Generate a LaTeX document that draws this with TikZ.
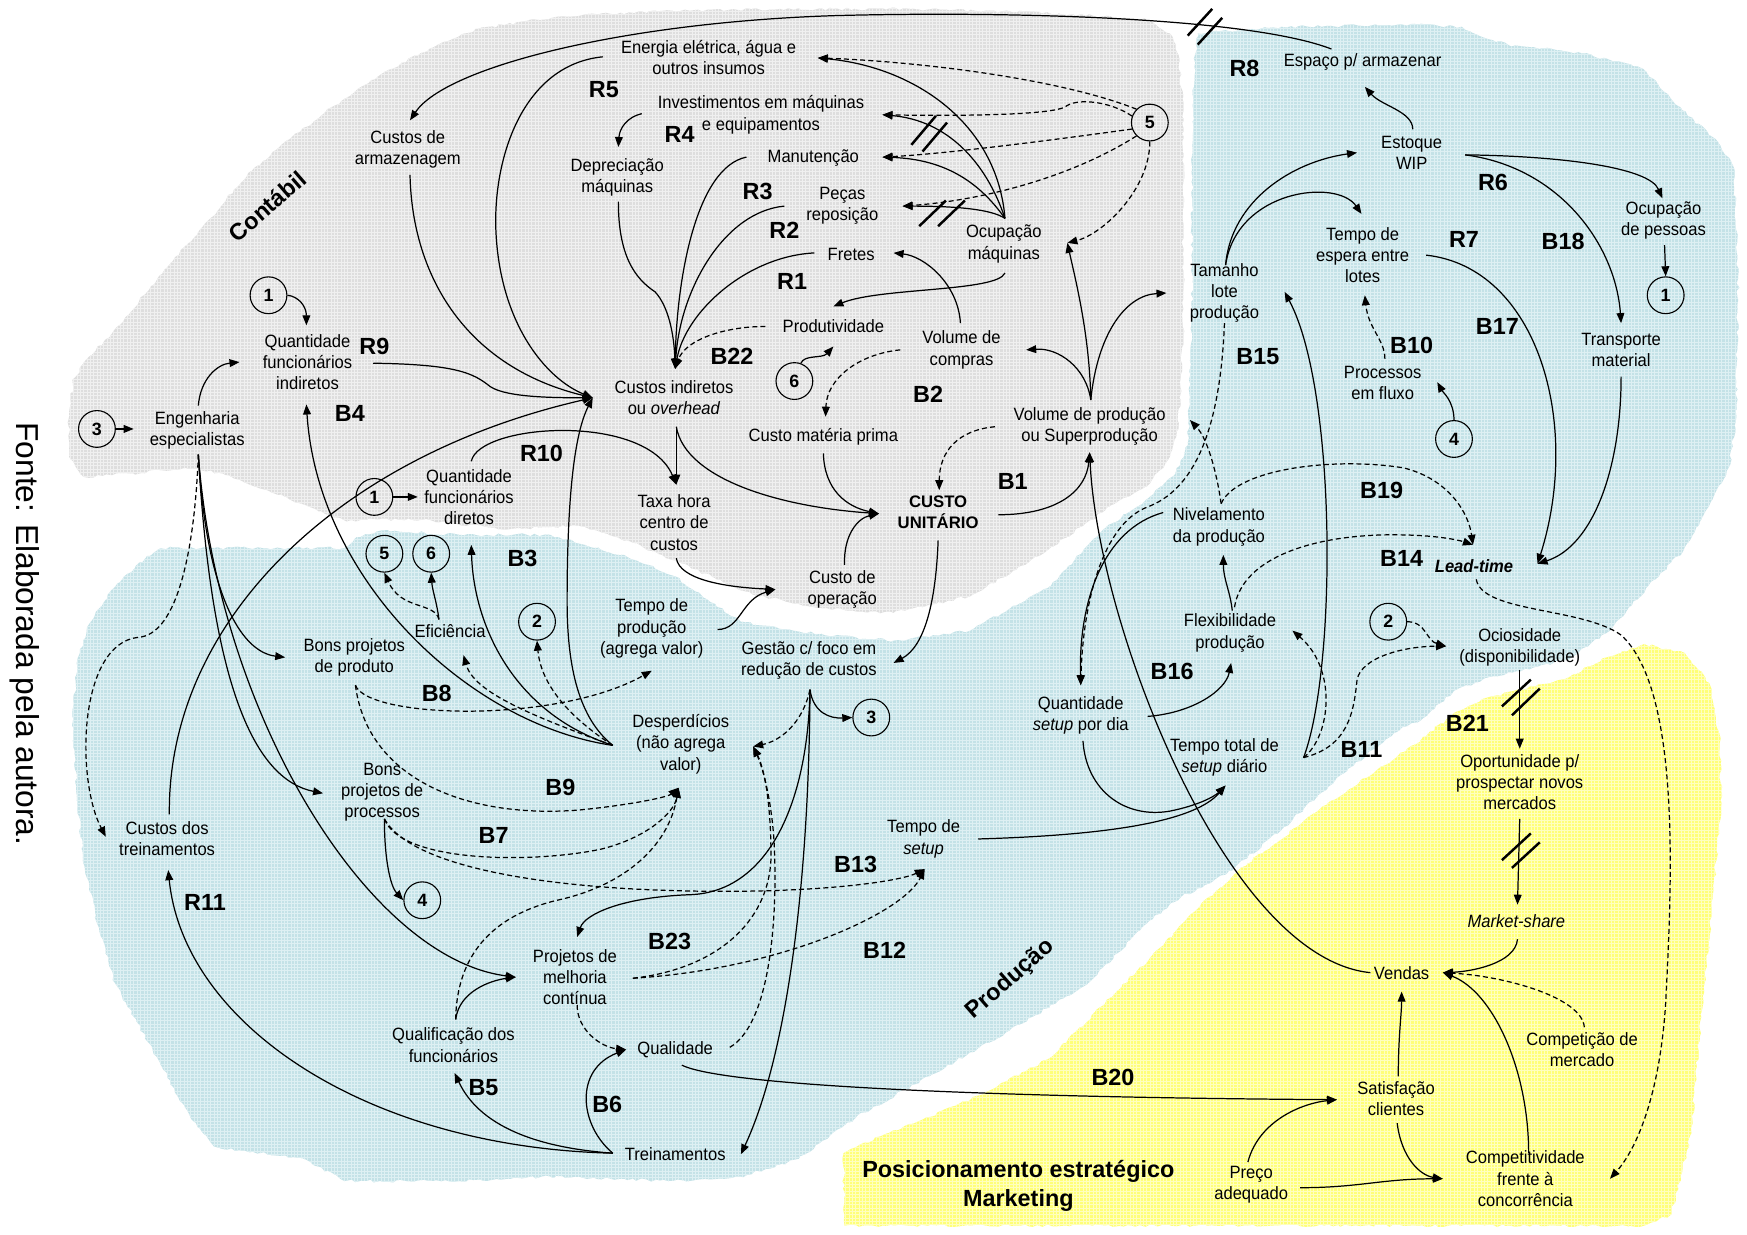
\documentclass[tikz,border=0pt]{standalone}
\usepackage{fontspec}
\setmainfont{Liberation Sans}[FakeStretch=0.93]
\newfontfamily\plainsf{Liberation Sans}
\usetikzlibrary{arrows.meta,decorations.pathmorphing,patterns}

\definecolor{grayzone}{RGB}{222,222,222}
\definecolor{grayline}{RGB}{240,240,240}
\definecolor{bluezone}{RGB}{196,226,231}
\definecolor{blueline}{RGB}{222,240,243}
\definecolor{yellowzone}{RGB}{255,255,120}
\definecolor{yellowline}{RGB}{255,255,190}

\begin{document}
\begin{tikzpicture}[x=1pt,y=-1pt,
  txt/.style={font=\fontsize{16}{19}\selectfont, align=center, inner sep=1pt},
  looplbl/.style={font=\plainsf\bfseries\fontsize{21}{24}\selectfont, inner sep=0pt},
  zonelbl/.style={font=\plainsf\bfseries\fontsize{21}{26}\selectfont, align=center, inner sep=0pt},
  circ/.style={circle, draw, line width=1pt, minimum size=33pt, inner sep=0pt, font=\plainsf\bfseries\fontsize{16}{16}\selectfont},
  link/.style={line width=1.1pt, -{Triangle[length=9pt,width=7pt]}},
  dlink/.style={link, dash pattern=on 4.5pt off 2.8pt},
  delay/.style={line width=2.2pt},
  zone/.style={decorate, decoration={random steps, segment length=4pt, amplitude=1.3pt}},
]
\useasboundingbox (0,0) rectangle (1568,1108);
\fill[white] (0,0) rectangle (1568,1108);

% ---------- background zones ----------
\def\grayzonepath{(500,15) -- (590,10) -- (700,8) -- (820,8) -- (950,12) -- (1030,18) -- (1050,30) -- (1058,50) -- (1062,100) -- (1062,300) -- (1058,380) -- (1050,410) -- (1032,434) -- (992,458) -- (940,494) -- (871,535) -- (802,550) -- (740,546) -- (680,535) -- (640,518) -- (605,503) -- (563,485) -- (520,472) -- (450,475) -- (387,467) -- (340,466) -- (311,468) -- (286,459) -- (240,440) -- (200,425) -- (166,420) -- (120,425) -- (75,428) -- (62,410) -- (62,370) -- (66,340) -- (80,320) -- (100,300) -- (125,270) -- (150,240) -- (190,195) -- (223,155) -- (260,125) -- (300,95) -- (343,66) -- (390,42) -- (429,26) -- cycle}
\pgfmathsetseed{11}
\fill[grayzone, zone] (500,15) -- (590,10) -- (700,8) -- (820,8) -- (950,12) -- (1030,18) -- (1050,30) -- (1058,50) -- (1062,100) -- (1062,300) -- (1058,380) -- (1050,410) -- (1032,434) -- (992,458) -- (940,494) -- (871,535) -- (802,550) -- (740,546) -- (680,535) -- (640,518) -- (605,503) -- (563,485) -- (520,472) -- (450,475) -- (387,467) -- (340,466) -- (311,468) -- (286,459) -- (240,440) -- (200,425) -- (166,420) -- (120,425) -- (75,428) -- (62,410) -- (62,370) -- (66,340) -- (80,320) -- (100,300) -- (125,270) -- (150,240) -- (190,195) -- (223,155) -- (260,125) -- (300,95) -- (343,66) -- (390,42) -- (429,26) -- cycle;
\pgfmathsetseed{11}
\fill[pattern=grid, pattern color=grayline, zone] (500,15) -- (590,10) -- (700,8) -- (820,8) -- (950,12) -- (1030,18) -- (1050,30) -- (1058,50) -- (1062,100) -- (1062,300) -- (1058,380) -- (1050,410) -- (1032,434) -- (992,458) -- (940,494) -- (871,535) -- (802,550) -- (740,546) -- (680,535) -- (640,518) -- (605,503) -- (563,485) -- (520,472) -- (450,475) -- (387,467) -- (340,466) -- (311,468) -- (286,459) -- (240,440) -- (200,425) -- (166,420) -- (120,425) -- (75,428) -- (62,410) -- (62,370) -- (66,340) -- (80,320) -- (100,300) -- (125,270) -- (150,240) -- (190,195) -- (223,155) -- (260,125) -- (300,95) -- (343,66) -- (390,42) -- (429,26) -- cycle;

\pgfmathsetseed{23}
\fill[bluezone, zone] (1075,30) -- (1150,24) -- (1272,22) -- (1312,24) -- (1335,35) -- (1353,40) -- (1420,48) -- (1475,62) -- (1510,99) -- (1540,125) -- (1556,150) -- (1560,250) -- (1558,377) -- (1552,419) -- (1530,460) -- (1511,494) -- (1480,525) -- (1459,550) -- (1442,568) -- (1408,592) -- (1339,607) -- (1305,620) -- (1278,644) -- (1251,658) -- (1237,670) -- (1210,690) -- (1185,712) -- (1150,745) -- (1100,785) -- (1060,805) -- (1032,826) -- (975,884) -- (906,925) -- (837,964) -- (768,1003) -- (717,1040) -- (665,1056) -- (600,1060) -- (494,1056) -- (412,1060) -- (309,1060) -- (275,1041) -- (192,1029) -- (172,1005) -- (137,942) -- (103,882) -- (86,822) -- (76,778) -- (69,718) -- (65,640) -- (70,590) -- (80,560) -- (103,527) -- (125,505) -- (144,492) -- (309,492) -- (320,482) -- (343,476) -- (412,480) -- (494,480) -- (563,500) -- (605,517) -- (665,558) -- (740,570) -- (802,575) -- (871,566) -- (940,528) -- (992,474) -- (1032,446) -- (1055,425) -- (1066,400) -- (1070,300) -- (1070,150) -- (1072,60) -- cycle;
\pgfmathsetseed{23}
\fill[pattern=grid, pattern color=blueline, zone] (1075,30) -- (1150,24) -- (1272,22) -- (1312,24) -- (1335,35) -- (1353,40) -- (1420,48) -- (1475,62) -- (1510,99) -- (1540,125) -- (1556,150) -- (1560,250) -- (1558,377) -- (1552,419) -- (1530,460) -- (1511,494) -- (1480,525) -- (1459,550) -- (1442,568) -- (1408,592) -- (1339,607) -- (1305,620) -- (1278,644) -- (1251,658) -- (1237,670) -- (1210,690) -- (1185,712) -- (1150,745) -- (1100,785) -- (1060,805) -- (1032,826) -- (975,884) -- (906,925) -- (837,964) -- (768,1003) -- (717,1040) -- (665,1056) -- (600,1060) -- (494,1056) -- (412,1060) -- (309,1060) -- (275,1041) -- (192,1029) -- (172,1005) -- (137,942) -- (103,882) -- (86,822) -- (76,778) -- (69,718) -- (65,640) -- (70,590) -- (80,560) -- (103,527) -- (125,505) -- (144,492) -- (309,492) -- (320,482) -- (343,476) -- (412,480) -- (494,480) -- (563,500) -- (605,517) -- (665,558) -- (740,570) -- (802,575) -- (871,566) -- (940,528) -- (992,474) -- (1032,446) -- (1055,425) -- (1066,400) -- (1070,300) -- (1070,150) -- (1072,60) -- cycle;

\pgfmathsetseed{37}
\fill[yellowzone, zone] (758,1100) -- (757,1035) -- (790,1020) -- (871,987) -- (940,951) -- (989,903) -- (1032,860) -- (1085,805) -- (1120,775) -- (1191,722) -- (1237,690) -- (1271,668) -- (1305,640) -- (1339,625) -- (1408,608) -- (1442,590) -- (1476,578) -- (1512,586) -- (1534,613) -- (1543,658) -- (1545,720) -- (1537,807) -- (1523,957) -- (1518,1017) -- (1500,1090) -- (1476,1100) -- cycle;
\pgfmathsetseed{37}
\fill[pattern=grid, pattern color=yellowline, zone] (758,1100) -- (757,1035) -- (790,1020) -- (871,987) -- (940,951) -- (989,903) -- (1032,860) -- (1085,805) -- (1120,775) -- (1191,722) -- (1237,690) -- (1271,668) -- (1305,640) -- (1339,625) -- (1408,608) -- (1442,590) -- (1476,578) -- (1512,586) -- (1534,613) -- (1543,658) -- (1545,720) -- (1537,807) -- (1523,957) -- (1518,1017) -- (1500,1090) -- (1476,1100) -- cycle;

% ---------- zone titles and source ----------
\node[zonelbl, rotate=41] (tContabil) at (240,185) {Contábil};
\node[zonelbl, rotate=41] (tProducao) at (907,879) {Produção};
\node[zonelbl] (tMarketing) at (914,1064) {Posicionamento estratégico\\Marketing};
\node[font=\plainsf\fontsize{28.5}{30}\selectfont, rotate=-90, inner sep=0pt] (fonte) at (22,569) {Fonte: Elaborada pela autora.};

% ---------- variables ----------
\node[txt] (energia) at (636,52) {Energia elétrica, água e\\outros insumos};
\node[txt] (armaz) at (366,134) {Custos de\\armazenagem};
\node[txt] (invest) at (683,103) {Investimentos em máquinas\\e equipamentos};
\node[txt] (deprec) at (554,159) {Depreciação\\máquinas};
\node[txt] (manut) at (730,142) {Manutenção};
\node[txt] (pecas) at (756,185) {Peças\\reposição};
\node[txt] (ocupmaq) at (901,219) {Ocupação\\máquinas};
\node[txt] (fretes) at (764,228) {Fretes};
\node[txt] (produt) at (748,293) {Produtividade};
\node[txt] (vcompras) at (863,314) {Volume de\\compras};
\node[txt] (ovh) at (605,357) {Custos indiretos\\ou \textit{overhead}};
\node[txt] (qfi) at (276,325) {Quantidade\\funcionários\\indiretos};
\node[txt] (eng) at (177,386) {Engenharia\\especialistas};
\node[txt] (cmp) at (739,392) {Custo matéria prima};
\node[txt] (vprod) at (978,383) {Volume de produção\\ou Superprodução};
\node[txt] (qfd) at (421,446) {Quantidade\\funcionários\\diretos};
\node[txt] (taxa) at (605,469) {Taxa hora\\centro de\\custos};
\node[txt, font=\plainsf\bfseries\fontsize{15}{19}\selectfont] (cu) at (842,460) {CUSTO\\UNITÁRIO};
\node[txt] (cop) at (756,529) {Custo de\\operação};
\node[txt] (efic) at (404,566) {Eficiência};
\node[txt] (tprod) at (585,564) {Tempo de\\produção\\(agrega valor)};
\node[txt] (bpprod) at (318,590) {Bons projetos\\de produto};
\node[txt] (gestao) at (726,593) {Gestão c/ foco em\\redução de custos};
\node[txt] (desp) at (611,668) {Desperdícios\\(não agrega\\valor)};
\node[txt] (bpproc) at (343,711) {Bons\\projetos de\\processos};
\node[txt] (ctrein) at (150,753) {Custos dos\\treinamentos};
\node[txt] (tsetup) at (829,753) {Tempo de\\\textit{setup}};
\node[txt] (projm) at (516,877) {Projetos de\\melhoria\\contínua};
\node[txt] (qualif) at (407,938) {Qualificação dos\\funcionários};
\node[txt] (qualid) at (606,942) {Qualidade};
\node[txt] (trein) at (606,1036) {Treinamentos};
\node[txt] (espaco) at (1223,56) {Espaço p/ armazenar};
\node[txt] (estoque) at (1267,137) {Estoque\\WIP};
\node[txt] (ocpes) at (1493,198) {Ocupação\\de pessoas};
\node[txt] (tespera) at (1223,229) {Tempo de\\espera entre\\lotes};
\node[txt] (tlote) at (1099,263) {Tamanho\\lote\\produção};
\node[txt] (transp) at (1455,314) {Transporte\\material};
\node[txt] (pfluxo) at (1241,344) {Processos\\em fluxo};
\node[txt] (nivel) at (1094,473) {Nivelamento\\da produção};
\node[txt, font=\fontsize{16}{19}\selectfont\bfseries\itshape] (lead) at (1323,508) {Lead-time};
\node[txt] (flex) at (1104,568) {Flexibilidade\\produção};
\node[txt] (ocios) at (1364,581) {Ociosidade\\(disponibilidade)};
\node[txt] (qsetup) at (970,642) {Quantidade\\\textit{setup} por dia};
\node[txt] (ttotal) at (1099,680) {Tempo total de\\\textit{setup} diário};
\node[txt] (oport) at (1364,702) {Oportunidade p/\\prospectar novos\\mercados};
\node[txt] (mshare) at (1361,827) {\textit{Market-share}};
\node[txt] (vendas) at (1258,873) {Vendas};
\node[txt] (compet) at (1420,942) {Competição de\\mercado};
\node[txt] (satisf) at (1253,986) {Satisfação\\clientes};
\node[txt] (preco) at (1123,1063) {Preço\\adequado};
\node[txt] (compt) at (1369,1058) {Competitividade\\frente à\\concorrência};

% ---------- off-page connectors ----------
\node[circ] (c5a) at (1032,110) {5};
\node[circ] (c1a) at (241,265) {1};
\node[circ] (c6a) at (713,342) {6};
\node[circ] (c3a) at (87,385) {3};
\node[circ] (c1b) at (336,446) {1};
\node[circ] (c5b) at (345,497) {5};
\node[circ] (c6b) at (387,497) {6};
\node[circ] (c2a) at (482,558) {2};
\node[circ] (c3b) at (782,644) {3};
\node[circ] (c4a) at (379,808) {4};
\node[circ] (c1c) at (1495,265) {1};
\node[circ] (c4b) at (1305,394) {4};
\node[circ] (c2b) at (1246,558) {2};

% ---------- loop labels ----------
\foreach \nm/\px/\py in {R5/542/80, R4/610/121, R3/680/172, R2/704/207, R1/711/253, B22/657/320, B2/833/354, R9/336/311, B4/314/371, R10/486/407, B1/909/432, B3/469/501, B8/392/622, B9/503/707, B7/443/750, R11/184/810, B13/768/776, B23/601/845, B12/794/853, B5/434/976, B6/545/991, R8/1117/61, R6/1340/164, R7/1314/215, B18/1403/217, B17/1344/293, B10/1267/310, B15/1129/320, B19/1240/440, B14/1258/501, B16/1052/603, B21/1317/649, B11/1222/673, B20/999/967}
  \node[looplbl] (l\nm) at (\px,\py) {\nm};

% ---------- attachment points on the variables ----------
\coordinate (ovhIn) at ([shift={(-73,0)}]ovh.center);
\coordinate (ovhTop) at ([shift={(1,-26)}]ovh.center);
\coordinate (ovhB) at ([shift={(2,26)}]ovh.center);
\coordinate (energiaR) at ([shift={(98,0)}]energia.center);
\coordinate (energiaL) at ([shift={(-95,-1)}]energia.center);
\coordinate (investR) at ([shift={(109,0)}]invest.center);
\coordinate (investL) at ([shift={(-107,-1)}]invest.center);
\coordinate (manutR) at ([shift={(62,-1)}]manut.center);
\coordinate (manutL) at ([shift={(-60,-1)}]manut.center);
\coordinate (pecasR) at ([shift={(54,0)}]pecas.center);
\coordinate (pecasL) at ([shift={(-52,0)}]pecas.center);
\coordinate (fretesL) at ([shift={(-33,-1)}]fretes.center);
\coordinate (fretesR) at ([shift={(38,-1)}]fretes.center);
\coordinate (ocupT) at ([shift={(1,-23)}]ocupmaq.center);
\coordinate (ocupB) at ([shift={(1,26)}]ocupmaq.center);
\coordinate (ocupR) at ([shift={(57,-1)}]ocupmaq.center);
\coordinate (produtL) at ([shift={(-61,0)}]produt.center);
\coordinate (produtT) at ([shift={(0,-18)}]produt.center);
\coordinate (produtB) at ([shift={(0,18)}]produt.center);
\coordinate (vcompT) at ([shift={(-1,-24)}]vcompras.center);
\coordinate (vcompL) at ([shift={(-55,0)}]vcompras.center);
\coordinate (vcompR) at ([shift={(58,0)}]vcompras.center);
\coordinate (cmpT) at ([shift={(2,-18)}]cmp.center);
\coordinate (cmpB) at ([shift={(0,15)}]cmp.center);
\coordinate (vprodT) at ([shift={(1,-24)}]vprod.center);
\coordinate (vprodB) at ([shift={(0,23)}]vprod.center);
\coordinate (vprodL) at ([shift={(-85,0)}]vprod.center);
\coordinate (vprodR) at ([shift={(90,-6)}]vprod.center);
\coordinate (cuT) at ([shift={(1,-20)}]cu.center);
\coordinate (cuL) at ([shift={(-53,1)}]cu.center);
\coordinate (cuR) at ([shift={(54,2)}]cu.center);
\coordinate (cuB) at ([shift={(0,25)}]cu.center);
\coordinate (taxaT) at ([shift={(2,-34)}]taxa.center);
\coordinate (taxaB) at ([shift={(2,32)}]taxa.center);
\coordinate (copT) at ([shift={(2,-22)}]cop.center);
\coordinate (copL) at ([shift={(-60,0)}]cop.center);
\coordinate (tprodR) at ([shift={(59,1)}]tprod.center);
\coordinate (tprodB) at ([shift={(0,38)}]tprod.center);
\coordinate (qfdT) at ([shift={(2,-32)}]qfd.center);
\coordinate (qfdL) at ([shift={(-46,0)}]qfd.center);
\coordinate (qfdB) at ([shift={(2,43)}]qfd.center);
\coordinate (qfiR) at ([shift={(59,1)}]qfi.center);
\coordinate (qfiL) at ([shift={(-61,0)}]qfi.center);
\coordinate (qfiT) at ([shift={(-1,-33)}]qfi.center);
\coordinate (qfiB) at ([shift={(-1,38)}]qfi.center);
\coordinate (engT) at ([shift={(1,-22)}]eng.center);
\coordinate (engB) at ([shift={(1,22)}]eng.center);
\coordinate (engL) at ([shift={(-57,-1)}]eng.center);
\coordinate (armazT) at ([shift={(2,-26)}]armaz.center);
\coordinate (armazB) at ([shift={(2,23)}]armaz.center);
\coordinate (deprecT) at ([shift={(1,-27)}]deprec.center);
\coordinate (deprecB) at ([shift={(1,22)}]deprec.center);
\coordinate (espacoNW) at ([shift={(-28,-12)}]espaco.center);
\coordinate (espacoB) at ([shift={(2,22)}]espaco.center);
\coordinate (ctreinT) at ([shift={(2,-22)}]ctrein.center);
\coordinate (ctreinB) at ([shift={(1,28)}]ctrein.center);
\coordinate (ctreinL) at ([shift={(-55,-2)}]ctrein.center);
\coordinate (despSrc) at ([shift={(-61,1)}]desp.center);
\coordinate (despR) at ([shift={(65,2)}]desp.center);
\coordinate (despB) at ([shift={(-2,39)}]desp.center);
\coordinate (eficT) at ([shift={(-10,-10)}]efic.center);
\coordinate (eficB) at ([shift={(12,22)}]efic.center);
\coordinate (bpprodB) at ([shift={(1,25)}]bpprod.center);
\coordinate (bpprodL) at ([shift={(-62,0)}]bpprod.center);
\coordinate (gestaoB) at ([shift={(1,26)}]gestao.center);
\coordinate (gestaoR) at ([shift={(76,2)}]gestao.center);
\coordinate (bpprocL) at ([shift={(-53,1)}]bpproc.center);
\coordinate (bpprocB) at ([shift={(2,24)}]bpproc.center);
\coordinate (tsetupB) at ([shift={(1,27)}]tsetup.center);
\coordinate (tsetupR) at ([shift={(49,0)}]tsetup.center);
\coordinate (projT) at ([shift={(2,-36)}]projm.center);
\coordinate (projL) at ([shift={(-53,0)}]projm.center);
\coordinate (projR) at ([shift={(52,1)}]projm.center);
\coordinate (projB) at ([shift={(2,25)}]projm.center);
\coordinate (qualifT) at ([shift={(2,-23)}]qualif.center);
\coordinate (qualifB) at ([shift={(1,25)}]qualif.center);
\coordinate (qualidL) at ([shift={(-44,0)}]qualid.center);
\coordinate (qualidR) at ([shift={(49,-2)}]qualid.center);
\coordinate (qualidB) at ([shift={(6,14)}]qualid.center);
\coordinate (treinL) at ([shift={(-56,-1)}]trein.center);
\coordinate (treinR) at ([shift={(59,0)}]trein.center);
\coordinate (tloteT) at ([shift={(1,-25)}]tlote.center);
\coordinate (tloteB) at ([shift={(0,27)}]tlote.center);
\coordinate (tloteR) at ([shift={(54,-1)}]tlote.center);
\coordinate (tloteL) at ([shift={(-52,0)}]tlote.center);
\coordinate (estoqueT) at ([shift={(1,-21)}]estoque.center);
\coordinate (estoqueR) at ([shift={(48,2)}]estoque.center);
\coordinate (estoqueL) at ([shift={(-49,0)}]estoque.center);
\coordinate (ocpesT) at ([shift={(-1,-20)}]ocpes.center);
\coordinate (ocpesB) at ([shift={(1,22)}]ocpes.center);
\coordinate (tesperaT) at ([shift={(-1,-37)}]tespera.center);
\coordinate (tesperaR) at ([shift={(57,0)}]tespera.center);
\coordinate (tesperaB) at ([shift={(2,36)}]tespera.center);
\coordinate (transpT) at ([shift={(0,-24)}]transp.center);
\coordinate (transpB) at ([shift={(0,24)}]transp.center);
\coordinate (pfluxoT) at ([shift={(2,-22)}]pfluxo.center);
\coordinate (pfluxoR) at ([shift={(49,-1)}]pfluxo.center);
\coordinate (nivelT) at ([shift={(2,-21)}]nivel.center);
\coordinate (nivelL) at ([shift={(-50,-13)}]nivel.center);
\coordinate (nivelB) at ([shift={(4,25)}]nivel.center);
\coordinate (leadL) at ([shift={(-1,-19)}]lead.center);
\coordinate (leadR) at ([shift={(57,-2)}]lead.center);
\coordinate (leadB) at ([shift={(2,12)}]lead.center);
\coordinate (flexT) at ([shift={(2,-20)}]flex.center);
\coordinate (flexT2) at ([shift={(4,-23)}]flex.center);
\coordinate (flexR) at ([shift={(56,-2)}]flex.center);
\coordinate (flexB) at ([shift={(1,27)}]flex.center);
\coordinate (ociosL) at ([shift={(-66,-1)}]ocios.center);
\coordinate (ociosB) at ([shift={(0,20)}]ocios.center);
\coordinate (qsetupT) at ([shift={(0,-27)}]qsetup.center);
\coordinate (qsetupR) at ([shift={(60,1)}]qsetup.center);
\coordinate (qsetupB) at ([shift={(2,23)}]qsetup.center);
\coordinate (ttotalB) at ([shift={(1,25)}]ttotal.center);
\coordinate (ttotalR) at ([shift={(71,0)}]ttotal.center);
\coordinate (oportT) at ([shift={(0,-30)}]oport.center);
\coordinate (oportB) at ([shift={(0,33)}]oport.center);
\coordinate (mshareT) at ([shift={(1,-15)}]mshare.center);
\coordinate (mshareB) at ([shift={(1,16)}]mshare.center);
\coordinate (vendasR) at ([shift={(37,0)}]vendas.center);
\coordinate (vendasL) at ([shift={(-28,0)}]vendas.center);
\coordinate (vendasB) at ([shift={(0,17)}]vendas.center);
\coordinate (competT) at ([shift={(2,-20)}]compet.center);
\coordinate (satisfT) at ([shift={(2,-20)}]satisf.center);
\coordinate (satisfB) at ([shift={(1,22)}]satisf.center);
\coordinate (satisfL) at ([shift={(-53,1)}]satisf.center);
\coordinate (precoR) at ([shift={(44,3)}]preco.center);
\coordinate (precoT) at ([shift={(-3,-20)}]preco.center);
\coordinate (compL) at ([shift={(-74,0)}]compt.center);
\coordinate (compT) at ([shift={(3,-23)}]compt.center);
\coordinate (compR) at ([shift={(76,0)}]compt.center);

% ---------- links: accounting ----------
\draw[link] (espacoNW) .. controls (1120,15) and (900,10) .. (750,14) .. controls (560,20) and (400,60) .. (armazT);
\draw[delay] (1066,32) -- (1088,8);
\draw[delay] (1075,40) -- (1097,16);
\draw[link] (energiaL) .. controls (470,58) and (443,140) .. (445,205) .. controls (448,290) and (490,340) .. (ovhIn);
\draw[link] (armazB) .. controls (370,250) and (420,330) .. (ovhIn);
\draw[link] (qfiR) .. controls (410,327) and (425,335) .. (440,347) .. controls (455,357) and (500,357) .. (ovhIn);
\draw[link] (ctreinT) .. controls (150,560) and (300,410) .. (ovhIn);
\draw[link] (despSrc) .. controls (520,645) and (509,600) .. (509,540) .. controls (509,450) and (515,390) .. (ovhIn);
\draw[link] (investL) .. controls (563,105) and (556,115) .. (deprecT);
\draw[link] (deprecB) .. controls (555,230) and (570,250) .. (588,262) .. controls (600,275) and (605,300) .. (ovhTop);
\draw[link] (manutL) .. controls (625,150) and (607,250) .. (ovhTop);
\draw[link] (pecasL) .. controls (650,190) and (610,260) .. (ovhTop);
\draw[link] (fretesL) .. controls (670,230) and (615,280) .. (ovhTop);
\draw[dlink] (produtL) .. controls (650,293) and (615,305) .. (ovhTop);
\draw[link] (ocupT) .. controls (895,110) and (820,60) .. (energiaR);
\draw[link] (ocupT) .. controls (885,145) and (850,108) .. (investR);
\draw[delay] (818,130) -- (840,104);
\draw[delay] (828,136) -- (850,110);
\draw[link] (ocupT) .. controls (880,165) and (850,143) .. (manutR);
\draw[link] (ocupT) .. controls (890,188) and (860,185) .. (pecasR);
\draw[delay] (825,203) -- (849,180);
\draw[delay] (842,203) -- (866,180);
\draw[dlink] (c5a.north west) .. controls (950,70) and (820,55) .. (energiaR);
\draw[dlink] (c5a.160) .. controls (995,90) and (965,88) .. (956,96) .. controls (940,104) and (850,104) .. (investR);
\draw[dlink] (c5a.200) .. controls (950,125) and (850,138) .. (manutR);
\draw[dlink] (c5a.south west) .. controls (960,160) and (880,180) .. (pecasR);
\draw[dlink] (c5a.south) .. controls (1032,170) and (990,210) .. (ocupR);
\draw[link] (ocupB) .. controls (895,262) and (790,258) .. (produtT);
\draw[link] (vcompT) .. controls (860,255) and (830,230) .. (fretesR);
\draw[link] (c6a.70) .. controls (722,318) and (738,322) .. (produtB);
\draw[dlink] (vcompL) .. controls (770,318) and (742,340) .. (cmpT);
\draw[link] (vprodT) .. controls (975,330) and (950,312) .. (vcompR);
\draw[link] (vprodT) .. controls (978,300) and (965,250) .. (ocupR);
\draw[link] (vprodT) .. controls (985,300) and (1010,265) .. (tloteL);
\draw[dlink] (vprodL) .. controls (860,386) and (843,405) .. (cuT);
\draw[link] (cuR) .. controls (950,462) and (975,440) .. (vprodB);
\draw[link] (vendasL) .. controls (1100,860) and (985,560) .. (vprodB);
\draw[link] (ovhB) -- (taxaT);
\draw[link] (ovhB) .. controls (615,430) and (700,455) .. (cuL);
\draw[link] (qfdT) .. controls (430,380) and (580,370) .. (taxaT);
\draw[link] (c1b.east) -- (qfdL);
\draw[link] (cmpB) .. controls (740,440) and (760,455) .. (cuL);
\draw[link] (copT) .. controls (757,480) and (770,465) .. (cuL);
\draw[link] (taxaB) .. controls (610,520) and (650,527) .. (copL);
\draw[link] (tprodR) .. controls (665,565) and (665,538) .. (copL);
\draw[link] (cuB) .. controls (840,540) and (830,580) .. (gestaoR);

% ---------- links: production ----------
\draw[link] (gestaoB) .. controls (730,640) and (745,645) .. (c3b.west);
\draw[dlink] (gestaoB) .. controls (720,650) and (700,665) .. (despR);
\draw[link] (gestaoB) .. controls (725,720) and (690,800) .. (620,803) .. controls (560,805) and (525,820) .. (projT);
\draw[link] (gestaoB) .. controls (726,800) and (705,950) .. (treinR);
\draw[dlink] (qualidR) .. controls (690,920) and (698,830) .. (695,760) .. controls (693,720) and (685,690) .. (despR);
\draw[dlink] (projR) .. controls (640,870) and (690,830) .. (692,770) .. controls (692,720) and (686,690) .. (despR);
\draw[dlink] (projR) .. controls (700,870) and (810,820) .. (tsetupB);
\draw[dlink] (projB) .. controls (518,925) and (540,940) .. (qualidL);
\draw[link] (treinL) .. controls (520,1010) and (515,960) .. (qualidL);
\draw[link] (treinL) .. controls (480,1030) and (430,1010) .. (qualifB);
\draw[link] (treinL) .. controls (330,1030) and (165,920) .. (ctreinB);
\draw[link] (qualifT) .. controls (412,890) and (440,880) .. (projL);
\draw[dlink] (qualifT) .. controls (410,850) and (450,820) .. (500,808) .. controls (560,795) and (600,760) .. (despB);
\draw[link] (engB) .. controls (195,640) and (330,860) .. (projL);
\draw[link] (engB) .. controls (185,530) and (215,585) .. (bpprodL);
\draw[link] (engB) .. controls (190,620) and (230,700) .. (bpprocL);
\draw[dlink] (engB) .. controls (175,490) and (160,570) .. (124,572) .. controls (70,578) and (68,700) .. (ctreinL);
\draw[link] (engT) .. controls (180,340) and (195,327) .. (qfiL);
\draw[link] (c3a.east) -- (engL);
\draw[link] (c1a.east) .. controls (268,266) and (275,275) .. (qfiT);
\draw[link] (despSrc) .. controls (420,650) and (285,520) .. (qfiB);
\draw[link] (despSrc) .. controls (460,640) and (425,560) .. (qfdB);
\draw[dlink] (despSrc) .. controls (505,640) and (485,610) .. (c2a.south);
\draw[dlink] (despSrc) .. controls (470,640) and (425,620) .. (eficB);
\draw[dlink] (eficT) .. controls (390,540) and (360,548) .. (c5b.south);
\draw[link] (eficT) .. controls (392,540) and (388,530) .. (c6b.south);
\draw[dlink] (bpprodB) .. controls (330,645) and (500,650) .. (tprodB);
\draw[dlink] (bpprodB) .. controls (330,700) and (420,735) .. (520,727) .. controls (570,722) and (600,715) .. (despB);
\draw[dlink] (bpprocB) .. controls (360,775) and (480,775) .. (540,762) .. controls (580,752) and (605,730) .. (despB);
\draw[dlink] (bpprocB) .. controls (370,780) and (500,800) .. (650,800) .. controls (750,800) and (810,790) .. (tsetupB);
\draw[link] (bpprocB) .. controls (345,770) and (350,795) .. (c4a.west);
\draw[link] (tsetupR) .. controls (980,750) and (1070,740) .. (ttotalB);
\draw[link] (qsetupB) .. controls (975,710) and (1010,735) .. (1050,728) .. controls (1075,723) and (1090,715) .. (ttotalB);
\draw[link] (qsetupR) .. controls (1070,640) and (1100,620) .. (flexB);
\draw[link] (nivelL) .. controls (990,475) and (968,540) .. (qsetupT);
\draw[dlink] (tloteB) .. controls (1095,390) and (1070,440) .. (1030,455) .. controls (990,470) and (972,540) .. (qsetupT);
\draw[dlink] (nivelT) .. controls (1093,430) and (1085,395) .. (vprodR);
\draw[dlink] (nivelT) .. controls (1110,420) and (1200,410) .. (1260,420) .. controls (1300,430) and (1318,460) .. (leadL);
\draw[link] (flexT) .. controls (1104,530) and (1098,520) .. (nivelB);
\draw[dlink] (flexT2) .. controls (1115,500) and (1180,480) .. (1250,480) .. controls (1290,480) and (1310,485) .. (leadL);
\draw[link] (ttotalR) .. controls (1200,600) and (1200,350) .. (tloteR);
\draw[dlink] (ttotalR) .. controls (1195,660) and (1200,600) .. (flexR);
\draw[dlink] (ttotalR) .. controls (1210,670) and (1215,640) .. (1218,610) .. controls (1222,590) and (1260,580) .. (ociosL);
\draw[dlink] (c2b.east) .. controls (1280,558) and (1280,575) .. (ociosL);
\draw[link] (c4b.north) .. controls (1305,360) and (1295,352) .. (pfluxoR);
\draw[dlink] (pfluxoT) .. controls (1243,305) and (1228,295) .. (tesperaB);
\draw[link] (tloteT) .. controls (1105,180) and (1160,145) .. (estoqueL);
\draw[link] (tloteT) .. controls (1110,170) and (1200,160) .. (tesperaT);
\draw[link] (estoqueT) .. controls (1268,100) and (1240,95) .. (espacoB);
\draw[link] (estoqueR) .. controls (1400,140) and (1480,150) .. (ocpesT);
\draw[link] (estoqueR) .. controls (1400,150) and (1450,220) .. (transpT);
\draw[link] (ocpesB) -- (c1c.north);
\draw[link] (tesperaR) .. controls (1380,240) and (1420,380) .. (leadR);
\draw[link] (transpB) .. controls (1455,420) and (1430,490) .. (leadR);

% ---------- links: marketing ----------
\draw[dlink] (leadB) .. controls (1330,550) and (1420,545) .. (1455,570) .. controls (1510,620) and (1500,800) .. (1495,900) .. controls (1490,980) and (1470,1030) .. (compR);
\draw[link] (ociosB) -- (oportT);
\draw[delay] (1348,634) -- (1374,610);
\draw[delay] (1357,642) -- (1382,618);
\draw[link] (oportB) -- (mshareT);
\draw[delay] (1348,772) -- (1374,748);
\draw[delay] (1357,779) -- (1382,756);
\draw[link] (mshareB) .. controls (1360,865) and (1320,872) .. (vendasR);
\draw[dlink] (competT) .. controls (1420,895) and (1350,876) .. (vendasR);
\draw[link] (compT) .. controls (1372,960) and (1340,890) .. (vendasR);
\draw[link] (satisfT) .. controls (1255,930) and (1258,910) .. (vendasB);
\draw[link] (satisfB) .. controls (1258,1040) and (1275,1055) .. (compL);
\draw[link] (precoR) .. controls (1220,1066) and (1240,1058) .. (compL);
\draw[link] (precoT) .. controls (1130,1005) and (1170,990) .. (satisfL);
\draw[link] (qualidB) .. controls (650,975) and (900,985) .. (satisfL);
\end{tikzpicture}
\end{document}
